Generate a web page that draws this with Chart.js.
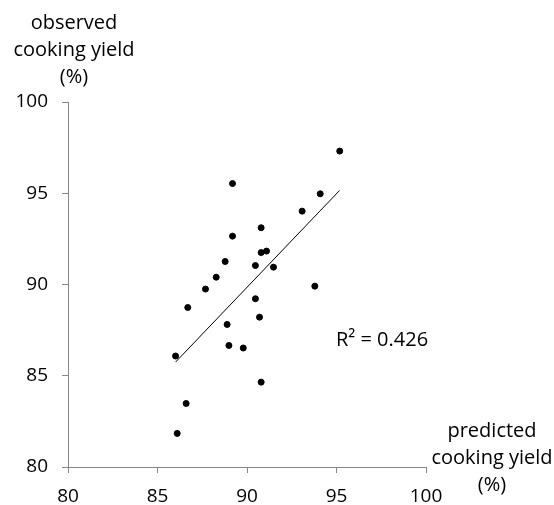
<!DOCTYPE html>
<html>
<head>
<meta charset="utf-8">
<script src="https://cdn.jsdelivr.net/npm/chart.js@4/dist/chart.umd.min.js"></script>
<style>
    html, body { margin: 0; padding: 0; background: #fff; }
    #wrap { width: 554px; height: 505px; }
</style>
</head>
<body>
<div id="wrap"><canvas id="yieldChart" width="554" height="505"></canvas></div>
<script>
// predicted vs observed cooking yield (%)
const predicted = [95.18, 89.19, 94.09, 93.08, 90.79, 89.19, 90.79, 91.09, 88.78, 90.47, 91.48, 88.28,
    87.68, 93.79, 86.69, 90.47, 90.70, 88.89, 88.99, 89.79, 86.01, 90.79, 86.60, 86.10];
const observed = [97.31, 95.53, 94.97, 94.02, 93.11, 92.65, 91.75, 91.83, 91.26, 91.04, 90.95, 90.40,
    89.75, 89.91, 88.74, 89.22, 88.21, 87.81, 86.66, 86.52, 86.08, 84.65, 83.48, 81.84];

// linear trendline end points
const trendX = [86.01, 95.17];
const trendY = [85.75, 95.15];

const axisTicks = [80, 85, 90, 95, 100];
const rSquaredLabel = "R² = 0.426";
const yTitle = ["observed", "cooking yield", "(%)"];
const xTitle = ["predicted", "cooking yield", "(%)"];

const FONT = "'Open Sans', sans-serif";
const AXIS_GREY = "#868686";

const textPlugin = {
    id: "chartText",
    afterDraw(chart) {
        const ctx = chart.ctx;
        ctx.save();
        ctx.fillStyle = "#000";
        ctx.font = "20px " + FONT;
        ctx.textAlign = "center";
        ctx.textBaseline = "middle";
        yTitle.forEach((line, i) => ctx.fillText(line, 74, 23 + i * 27));
        xTitle.forEach((line, i) => ctx.fillText(line, 492, 431 + i * 27));
        ctx.textAlign = "left";
        ctx.fillText(rSquaredLabel, 336, 340);
        ctx.restore();
    }
};

const points = predicted.map((x, i) => ({ x: x, y: observed[i] }));
const trend = trendX.map((x, i) => ({ x: x, y: trendY[i] }));

new Chart(document.getElementById("yieldChart").getContext("2d"), {
    type: "scatter",
    data: {
        datasets: [
            {
                label: "data",
                data: points,
                backgroundColor: "#000",
                borderColor: "#000",
                pointRadius: 3,
                pointHoverRadius: 3
            },
            {
                label: "trend",
                type: "line",
                data: trend,
                borderColor: "#000",
                borderWidth: 1,
                pointRadius: 0,
                fill: false
            }
        ]
    },
    options: {
        responsive: false,
        animation: false,
        events: [],
        layout: { padding: { top: 102, right: 128, bottom: 0, left: 0 } },
        plugins: { legend: { display: false }, tooltip: { enabled: false } },
        scales: {
            x: {
                type: "linear",
                min: 80,
                max: 100,
                afterBuildTicks: s => { s.ticks = axisTicks.map(v => ({ value: v })); },
                afterFit: s => { s.height = 38; },
                border: { color: AXIS_GREY, width: 1 },
                grid: { display: true, drawOnChartArea: false, color: AXIS_GREY, tickLength: 6 },
                ticks: { color: "#000", font: { family: FONT, size: 19 }, padding: 12, maxRotation: 0 }
            },
            y: {
                type: "linear",
                min: 80,
                max: 100,
                afterBuildTicks: s => { s.ticks = axisTicks.map(v => ({ value: v })); },
                afterFit: s => { s.width = 68; },
                border: { color: AXIS_GREY, width: 1 },
                grid: { display: true, drawOnChartArea: false, color: AXIS_GREY, tickLength: 6 },
                ticks: { color: "#000", font: { family: FONT, size: 19 }, padding: 14 }
            }
        }
    },
    plugins: [textPlugin]
});
</script>
</body>
</html>
